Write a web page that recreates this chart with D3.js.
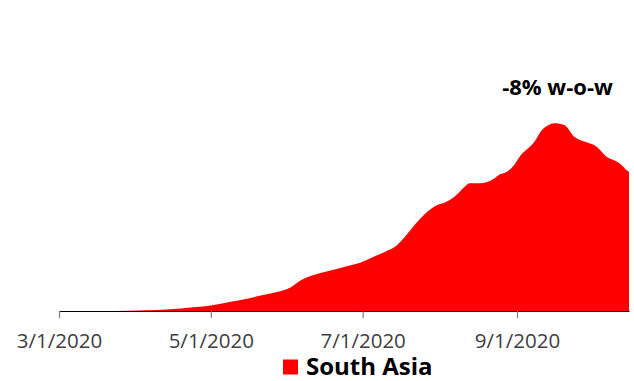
<!DOCTYPE html>
<html>
<head>
<meta charset="utf-8">
<script src="https://cdn.jsdelivr.net/npm/d3@7"></script>
<style>
  html, body { margin: 0; padding: 0; background: #fff; }
  svg { display: block; }
</style>
</head>
<body>
<svg id="chart" width="634" height="381"></svg>
<script>
// Daily new cases, 7-day average, South Asia
const dates = [
  "2020-03-01","2020-03-17","2020-03-29","2020-04-05","2020-04-13","2020-04-19",
  "2020-04-25","2020-05-01","2020-05-09","2020-05-14","2020-05-22","2020-05-28",
  "2020-06-02","2020-06-06","2020-06-14","2020-06-19","2020-06-25","2020-06-30",
  "2020-07-07","2020-07-10","2020-07-14","2020-07-18","2020-07-23","2020-07-27",
  "2020-07-31","2020-08-03","2020-08-07","2020-08-11","2020-08-13","2020-08-17",
  "2020-08-23","2020-08-25","2020-08-28","2020-08-31","2020-09-02","2020-09-08",
  "2020-09-11","2020-09-13","2020-09-16","2020-09-20","2020-09-24","2020-09-29",
  "2020-10-03","2020-10-07","2020-10-11","2020-10-13","2020-10-15","2020-10-16"
];
const southAsia = [
  0, 50, 200, 400, 800, 1400,
  2100, 3000, 5000, 6200, 8500, 10300,
  12600, 16300, 20300, 21900, 24000, 25800,
  29900, 31700, 34300, 39700, 47700, 53000,
  56600, 57900, 61100, 66400, 68200, 68200,
  70900, 72900, 74400, 78300, 82300, 90400,
  96700, 98800, 100300, 99400, 93100, 90100,
  87800, 82400, 79800, 78000, 75300, 74400
];
const tickDates = ["2020-03-01", "2020-05-01", "2020-07-01", "2020-09-01"];
const seriesName = "South Asia";
const annotation = "-8% w-o-w";

const parse = d3.utcParse("%Y-%m-%d");
const data = dates.map((d, i) => ({ date: parse(d), value: southAsia[i] }));

const svg = d3.select("#chart");
const margin = { left: 59, right: 5, top: 77, bottom: 70 };
const W = 634, H = 381;

const x = d3.scaleUtc()
  .domain([parse("2020-03-01"), parse("2020-10-16")])
  .range([margin.left, W - margin.right]);
const y = d3.scaleLinear()
  .domain([0, 125000])
  .range([H - margin.bottom, margin.top]);

const area = d3.area()
  .x(d => x(d.date))
  .y0(y(0))
  .y1(d => y(d.value))
  .curve(d3.curveMonotoneX);

svg.append("path")
  .datum(data)
  .attr("fill", "#ff0000")
  .attr("d", area);

// x axis
const xAxis = d3.axisBottom(x)
  .tickValues(tickDates.map(parse))
  .tickFormat(d3.utcFormat("%-m/%-d/%Y"))
  .tickSizeInner(7)
  .tickSizeOuter(0)
  .tickPadding(0);

const gx = svg.append("g")
  .attr("transform", `translate(0,${y(0)})`)
  .call(xAxis);
gx.select(".domain").attr("stroke", "#000").attr("stroke-width", 1.2);
gx.selectAll(".tick line").attr("stroke", "#7f7f7f").attr("stroke-width", 1.2);
gx.selectAll(".tick text")
  .attr("y", 37)
  .attr("dy", null)
  .attr("fill", "#404040")
  .style("font-family", "'Open Sans', sans-serif")
  .style("font-size", "20.5px");

// annotation
svg.append("text")
  .attr("x", 557.5)
  .attr("y", 95)
  .attr("text-anchor", "middle")
  .attr("fill", "#000")
  .style("font-family", "'Open Sans', sans-serif")
  .style("font-weight", "700")
  .style("font-size", "22px")
  .text(annotation);

// legend
const lg = svg.append("g");
lg.append("rect")
  .attr("x", 283).attr("y", 359.5)
  .attr("width", 15).attr("height", 15)
  .attr("fill", "#ff0000");
lg.append("text")
  .attr("x", 306)
  .attr("y", 374.5)
  .attr("fill", "#000")
  .style("font-family", "'Open Sans', sans-serif")
  .style("font-weight", "700")
  .style("font-size", "24px")
  .text(seriesName);
</script>
</body>
</html>
